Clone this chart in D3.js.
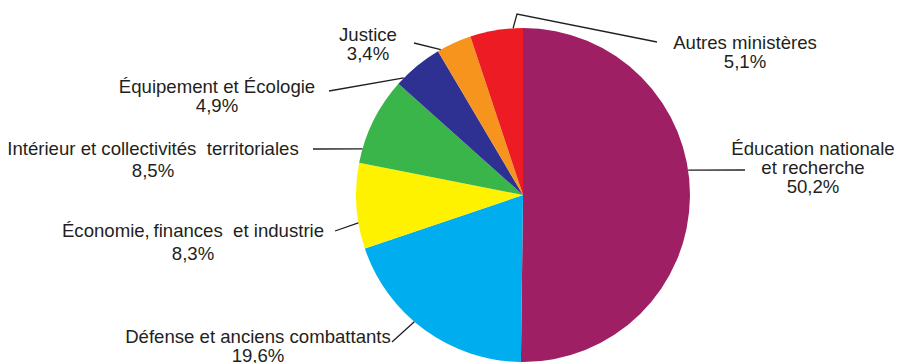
<!DOCTYPE html>
<html lang="fr">
<head>
<meta charset="utf-8">
<script src="https://cdn.jsdelivr.net/npm/d3@7"></script>
<style>
  html, body { margin: 0; padding: 0; background: #fff; }
  svg { display: block; }
  text { font-family: "Liberation Sans", Arial, sans-serif; font-size: 18.6px; fill: #231F20; white-space: pre; }
</style>
</head>
<body>
<svg id="chart" width="900" height="363"></svg>
<script>
// Répartition des effectifs par ministère (%)
const categories = [
  "Éducation nationale et recherche",
  "Défense et anciens combattants",
  "Économie, finances et industrie",
  "Intérieur et collectivités territoriales",
  "Équipement et Écologie",
  "Justice",
  "Autres ministères"
];
const values = [50.2, 19.6, 8.3, 8.5, 4.9, 3.4, 5.1];
const valueLabels = ["50,2%", "19,6%", "8,3%", "8,5%", "4,9%", "3,4%", "5,1%"];
const labelLines = [
  ["Éducation nationale", "et recherche"],
  ["Défense et anciens combattants"],
  ["Économie,\u2009finances  et industrie"],
  ["Intérieur et collectivités  territoriales"],
  ["Équipement et Écologie"],
  ["Justice"],
  ["Autres ministères"]
];
const colors = ["#9E1F63", "#00AEEF", "#FFF200", "#39B54A", "#2E3192", "#F7941D", "#ED1C24"];

// Layout of the pie and its callouts
const cx = 523, cy = 195, radius = 167;
// angle (deg, clockwise from top) where each leader meets the rim, the leader bend/end points,
// and the text block position (centre x, first baseline, line step)
const callouts = [
  { rim: 81.4,  path: [[745, 170]],            x: 813, y: 155, step: 19 },
  { rim: 220.6, path: [[392, 342]],            x: 258, y: 343, step: 19 },
  { rim: 260.4, path: [[335, 231]],            x: 193, y: 237, step: 23 },
  { rim: 286,   path: [[313, 149]],            x: 153, y: 155, step: 22 },
  { rim: 314.5, path: [[329, 91]],             x: 217, y: 93,  step: 19 },
  { rim: 330.5, path: [[414, 43]],             x: 368, y: 41,  step: 19 },
  { rim: 356.6, path: [[517, 14], [657, 42]],  x: 745, y: 49,  step: 19 }
];

const svg = d3.select("#chart");
const g = svg.append("g").attr("transform", `translate(${cx},${cy})`);

const pie = d3.pie().sort(null).value(d => d);
const arc = d3.arc().innerRadius(0).outerRadius(radius);
const arcs = pie(values);

g.selectAll("path.slice")
  .data(arcs)
  .join("path")
  .attr("class", "slice")
  .attr("d", arc)
  .attr("fill", (d, i) => colors[i]);

// Leader lines
const rimPoint = deg => {
  const a = deg * Math.PI / 180;
  return [cx + radius * Math.sin(a), cy - radius * Math.cos(a)];
};
svg.selectAll("polyline.leader")
  .data(callouts)
  .join("polyline")
  .attr("class", "leader")
  .attr("points", c => [rimPoint(c.rim), ...c.path].map(p => p.join(",")).join(" "))
  .attr("fill", "none")
  .attr("stroke", "#231F20")
  .attr("stroke-width", 1.3);

// Labels
categories.forEach((cat, i) => {
  const c = callouts[i];
  const lines = [...labelLines[i], valueLabels[i]];
  const t = svg.append("text")
    .attr("text-anchor", "middle")
    .attr("x", c.x)
    .attr("y", c.y);
  lines.forEach((ln, k) => {
    t.append("tspan")
      .attr("x", c.x)
      .attr("dy", k === 0 ? 0 : c.step)
      .text(ln);
  });
});
</script>
</body>
</html>
